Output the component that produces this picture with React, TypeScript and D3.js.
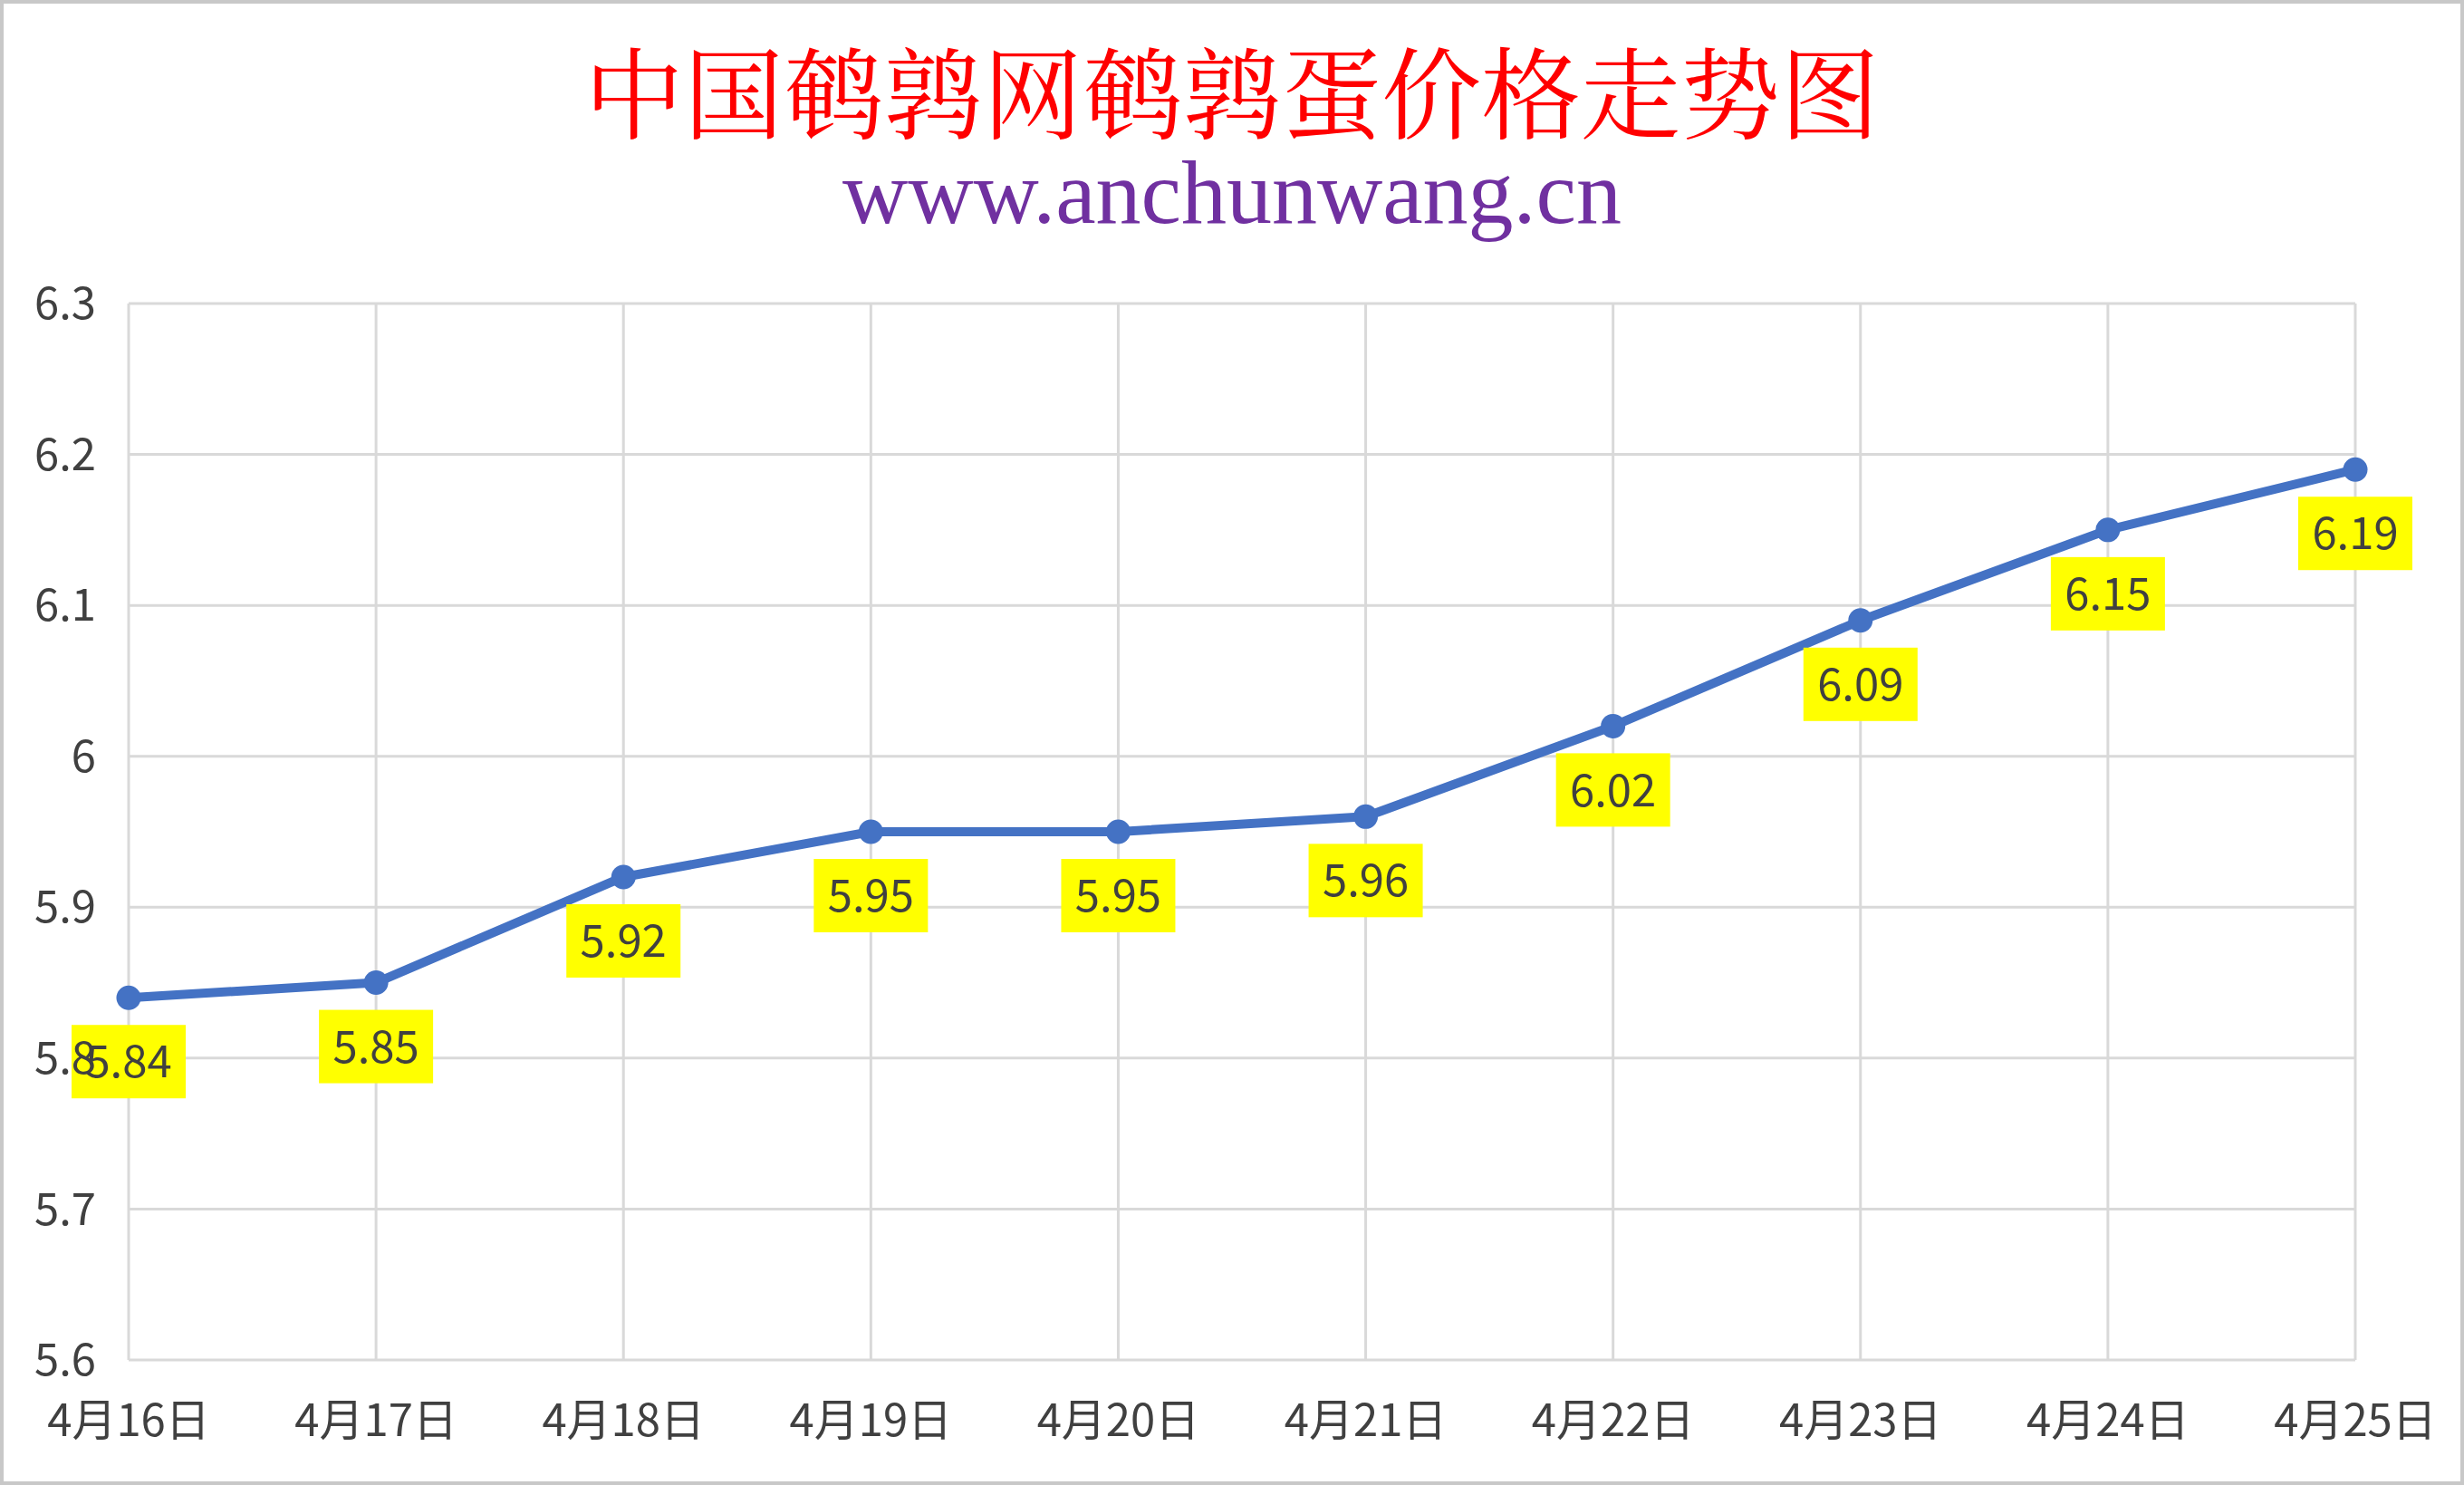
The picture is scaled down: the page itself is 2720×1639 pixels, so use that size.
import * as d3 from "d3";
import { useEffect, useRef } from "react";

const categories: string[] = [
  "4月16日",
  "4月17日",
  "4月18日",
  "4月19日",
  "4月20日",
  "4月21日",
  "4月22日",
  "4月23日",
  "4月24日",
  "4月25日",
];
const prices: number[] = [5.84, 5.85, 5.92, 5.95, 5.95, 5.96, 6.02, 6.09, 6.15, 6.19];
const yTickValues: number[] = [5.6, 5.7, 5.8, 5.9, 6.0, 6.1, 6.2, 6.3];
const yTickLabels: string[] = ["5.6", "5.7", "5.8", "5.9", "6", "6.1", "6.2", "6.3"];
const title = "中国鹌鹑网鹌鹑蛋价格走势图";
const subtitle = "www.anchunwang.cn";

const width = 2720;
const height = 1639;
const marginTop = 335;
const marginRight = 120;
const marginBottom = 138;
const marginLeft = 142;
const labelFont = "'Noto Sans CJK SC', 'Noto Sans', sans-serif";

export default function App() {
  const svgRef = useRef<SVGSVGElement>(null);

  useEffect(() => {
    const svg = d3.select(svgRef.current);
    svg.selectAll("*").remove();

    // fondo y borde
    svg
      .append("rect")
      .attr("x", 2)
      .attr("y", 2)
      .attr("width", width - 4)
      .attr("height", height - 4)
      .attr("fill", "#fff")
      .attr("stroke", "#c8c8c8")
      .attr("stroke-width", 4);

    const x = d3
      .scalePoint<string>()
      .domain(categories)
      .range([marginLeft, width - marginRight]);

    const y = d3
      .scaleLinear()
      .domain([5.6, 6.3])
      .range([height - marginBottom, marginTop]);

    // rejilla
    const grid = svg.append("g").attr("stroke", "#d9d9d9").attr("stroke-width", 3);
    grid
      .selectAll("line.h")
      .data(yTickValues)
      .enter()
      .append("line")
      .attr("x1", marginLeft)
      .attr("x2", width - marginRight)
      .attr("y1", (d) => y(d))
      .attr("y2", (d) => y(d));
    grid
      .selectAll("line.v")
      .data(categories)
      .enter()
      .append("line")
      .attr("x1", (d) => x(d)!)
      .attr("x2", (d) => x(d)!)
      .attr("y1", marginTop)
      .attr("y2", height - marginBottom);

    // título
    svg
      .append("text")
      .attr("x", width / 2)
      .attr("y", 145)
      .attr("text-anchor", "middle")
      .attr("fill", "#ff0000")
      .attr("font-family", "'Noto Serif CJK SC', 'Noto Sans CJK SC', serif")
      .attr("font-size", 110)
      .text(title);

    svg
      .append("text")
      .attr("x", width / 2)
      .attr("y", 246)
      .attr("text-anchor", "middle")
      .attr("fill", "#7030a0")
      .attr("font-family", "'Liberation Serif', 'Times New Roman', serif")
      .attr("font-size", 100)
      .text(subtitle);

    // línea
    const line = d3
      .line<number>()
      .x((_, i) => x(categories[i])!)
      .y((d) => y(d));

    svg
      .append("path")
      .datum(prices)
      .attr("fill", "none")
      .attr("stroke", "#4472c4")
      .attr("stroke-width", 10)
      .attr("stroke-linejoin", "round")
      .attr("d", line);

    svg
      .append("g")
      .attr("fill", "#4472c4")
      .selectAll("circle")
      .data(prices)
      .enter()
      .append("circle")
      .attr("cx", (_, i) => x(categories[i])!)
      .attr("cy", (d) => y(d))
      .attr("r", 13.5);

    // etiquetas de datos
    const labels = svg.append("g");
    labels
      .selectAll("rect")
      .data(prices)
      .enter()
      .append("rect")
      .attr("x", (_, i) => x(categories[i])! - 63)
      .attr("y", (d) => y(d) + 30)
      .attr("width", 126)
      .attr("height", 81)
      .attr("fill", "#ffff00");
    labels
      .selectAll("text")
      .data(prices)
      .enter()
      .append("text")
      .attr("x", (_, i) => x(categories[i])!)
      .attr("y", (d) => y(d) + 71)
      .attr("dy", "0.35em")
      .attr("text-anchor", "middle")
      .attr("fill", "#404040")
      .attr("font-family", labelFont)
      .attr("font-size", 49)
      .text((d) => d.toFixed(2));

    // eje Y
    svg
      .append("g")
      .selectAll("text")
      .data(yTickValues)
      .enter()
      .append("text")
      .attr("x", marginLeft - 36)
      .attr("y", (d) => y(d))
      .attr("dy", "0.35em")
      .attr("text-anchor", "end")
      .attr("fill", "#404040")
      .attr("font-family", labelFont)
      .attr("font-size", 49)
      .text((_, i) => yTickLabels[i]);

    // eje X
    svg
      .append("g")
      .selectAll("text")
      .data(categories)
      .enter()
      .append("text")
      .attr("x", (d) => x(d)!)
      .attr("y", 1585)
      .attr("text-anchor", "middle")
      .attr("fill", "#404040")
      .attr("font-family", labelFont)
      .attr("font-size", 49)
      .text((d) => d);
  }, []);

  return (
    <svg
      ref={svgRef}
      width={width}
      height={height}
      style={{ position: "absolute", left: 0, top: 0, display: "block" }}
    />
  );
}
